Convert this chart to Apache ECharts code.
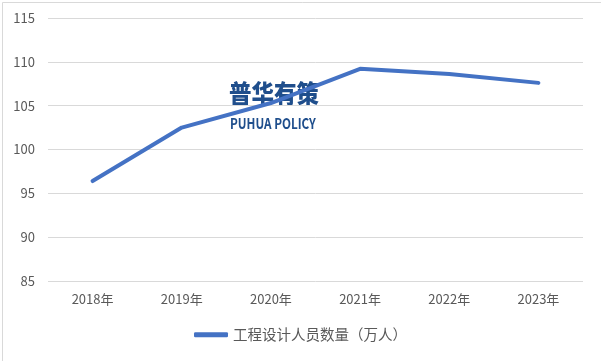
<!DOCTYPE html>
<html><head><meta charset="utf-8">
<script src="https://cdn.jsdelivr.net/npm/echarts@6/dist/echarts.min.js"></script>
<style>html,body{margin:0;padding:0;background:#fff}#c{width:601px;height:361px}</style>
</head><body><div id="c"></div>
<script>
const categories = ['2018年','2019年','2020年','2021年','2022年','2023年'];
const seriesName = '工程设计人员数量（万人）';
const values = [96.4, 102.5, 105.3, 109.2, 108.6, 107.6];
const yMin = 85, yMax = 115, yStep = 5;

const chart = echarts.init(document.getElementById('c'), null, {renderer:'canvas'});
const font = '"Noto Sans CJK SC", "Microsoft YaHei", sans-serif';
chart.setOption({
  animation:false,
  backgroundColor:'#fff',
  textStyle:{fontFamily:font},
  grid:{left:48,right:18,top:18,bottom:80},
  legend:{bottom:14,left:'center',itemWidth:34,itemHeight:5,itemGap:4,
    icon:'roundRect',
    textStyle:{color:'#595959',fontSize:14.5,fontFamily:font},
    data:[{name:seriesName}]},
  xAxis:{type:'category',data:categories,boundaryGap:true,
    axisLine:{show:false},axisTick:{show:false},
    axisLabel:{color:'#595959',fontSize:13,margin:12,fontFamily:font}},
  yAxis:{type:'value',min:yMin,max:yMax,interval:yStep,
    axisLine:{show:false},axisTick:{show:false},
    axisLabel:{color:'#595959',fontSize:13,margin:13,fontFamily:font},
    splitLine:{lineStyle:{color:'#d9d9d9',width:1}}},
  graphic:[
    {type:'rect',left:0,top:0,shape:{width:600,height:360},style:{fill:'none',stroke:'#d9d9d9',lineWidth:1},z:-1,silent:true},
    {type:'text',x:229,y:81,scaleX:0.9,style:{text:'普华有策',fill:'#1f4e8c',font:'900 25px "Noto Sans CJK SC"'},z:0},
    {type:'text',x:230,y:116,scaleX:0.78,style:{text:'PUHUA POLICY',fill:'#1f4e8c',font:'bold 15px "Noto Sans CJK SC"'},z:0}
  ],
  series:[{name:seriesName,type:'line',data:values,symbol:'none',
    lineStyle:{color:'#4472C4',width:4,cap:'round',join:'round'},
    itemStyle:{color:'#4472C4'},z:2}]
});
</script></body></html>
